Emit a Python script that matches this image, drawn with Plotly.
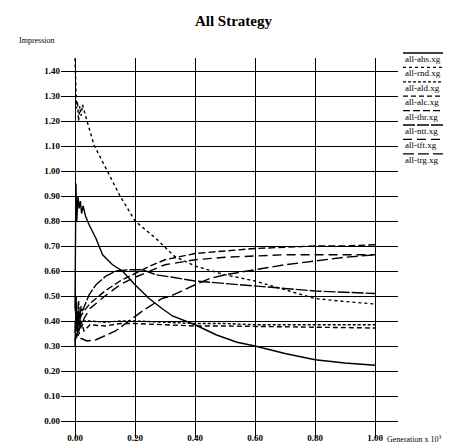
import plotly.graph_objects as go

# ---- data ----
ahs_x = [0, 0.003, 0.006, 0.01, 0.014, 0.018, 0.022, 0.027, 0.035, 0.047, 0.07, 0.092, 0.125, 0.158, 0.2, 0.247, 0.29, 0.325, 0.4, 0.47, 0.54, 0.6, 0.7, 0.8, 0.9, 1.0]
ahs_y = [0.45, 0.95, 0.80, 0.90, 0.85, 0.88, 0.83, 0.86, 0.82, 0.785, 0.73, 0.665, 0.625, 0.60, 0.545, 0.49, 0.45, 0.42, 0.385, 0.345, 0.315, 0.30, 0.27, 0.245, 0.232, 0.223]

rnd_x = [0, 0.002, 0.005, 0.008, 0.012, 0.016, 0.02, 0.025, 0.03, 0.04, 0.063, 0.09, 0.108, 0.135, 0.148, 0.2, 0.27, 0.33, 0.4, 0.5, 0.6, 0.7, 0.8, 0.9, 1.0]
rnd_y = [1.45, 1.35, 1.25, 1.28, 1.20, 1.26, 1.22, 1.265, 1.24, 1.20, 1.105, 1.04, 1.0, 0.93, 0.905, 0.80, 0.73, 0.66, 0.62, 0.585, 0.56, 0.525, 0.49, 0.478, 0.468]

ald_x = [0, 0.01, 0.02, 0.03, 0.05, 0.1, 0.15, 0.2, 0.3, 0.4, 0.5, 0.6, 0.7, 0.8, 0.9, 1.0]
ald_y = [0.32, 0.42, 0.37, 0.40, 0.40, 0.395, 0.40, 0.40, 0.395, 0.39, 0.39, 0.385, 0.385, 0.385, 0.385, 0.385]

alc_x = [0, 0.01, 0.02, 0.03, 0.05, 0.1, 0.15, 0.2, 0.3, 0.4, 0.5, 0.6, 0.7, 0.8, 0.9, 1.0]
alc_y = [0.38, 0.34, 0.40, 0.36, 0.385, 0.38, 0.39, 0.39, 0.385, 0.38, 0.38, 0.378, 0.376, 0.375, 0.373, 0.372]

thr_x = [0, 0.005, 0.01, 0.02, 0.03, 0.05, 0.1, 0.15, 0.2, 0.25, 0.3, 0.4, 0.5, 0.6, 0.7, 0.8, 0.9, 1.0]
thr_y = [0.35, 0.45, 0.38, 0.42, 0.44, 0.47, 0.52, 0.56, 0.59, 0.62, 0.645, 0.67, 0.68, 0.69, 0.695, 0.70, 0.70, 0.705]

ntt_x = [0, 0.004, 0.008, 0.012, 0.016, 0.02, 0.025, 0.035, 0.047, 0.07, 0.103, 0.137, 0.18, 0.225, 0.27, 0.325, 0.4, 0.5, 0.6, 0.7, 0.8, 0.9, 1.0]
ntt_y = [0.30, 0.50, 0.35, 0.48, 0.38, 0.46, 0.44, 0.47, 0.505, 0.545, 0.58, 0.60, 0.605, 0.605, 0.585, 0.575, 0.56, 0.55, 0.54, 0.53, 0.52, 0.515, 0.51]

tft_x = [0, 0.005, 0.01, 0.02, 0.03, 0.05, 0.1, 0.15, 0.2, 0.25, 0.3, 0.4, 0.5, 0.6, 0.7, 0.8, 0.9, 1.0]
tft_y = [0.40, 0.33, 0.42, 0.38, 0.41, 0.45, 0.50, 0.545, 0.575, 0.60, 0.625, 0.645, 0.655, 0.66, 0.665, 0.665, 0.665, 0.665]

trg_x = [0, 0.006, 0.012, 0.02, 0.04, 0.07, 0.10, 0.135, 0.18, 0.225, 0.29, 0.32, 0.4, 0.45, 0.5, 0.6, 0.7, 0.8, 0.9, 1.0]
trg_y = [0.45, 0.40, 0.36, 0.33, 0.32, 0.325, 0.34, 0.36, 0.40, 0.44, 0.49, 0.50, 0.545, 0.57, 0.585, 0.605, 0.625, 0.64, 0.655, 0.665]

series_names = ["all-ahs.xg", "all-rnd.xg", "all-ald.xg", "all-alc.xg",
                "all-thr.xg", "all-ntt.xg", "all-tft.xg", "all-trg.xg"]
series_x = [ahs_x, rnd_x, ald_x, alc_x, thr_x, ntt_x, tft_x, trg_x]
series_y = [ahs_y, rnd_y, ald_y, alc_y, thr_y, ntt_y, tft_y, trg_y]
dashes = ["solid", "dot", "3px,2px", "5px,3px", "7px,3px", "12px,2px", "9px,5px", "11px,4px"]

x_ticks = [0.0, 0.2, 0.4, 0.6, 0.8, 1.0]
y_ticks = [round(i * 0.1, 2) for i in range(15)]

# ---- layout geometry (pixels) ----
W, H = 451, 446
L, R, T, B = 53, 61, 50, 16
PW, PH = W - L - R, H - T - B

def px_x(p):
    return (p - L) / PW

def px_y(p):
    return (H - B - p) / PH

SERIF = "Liberation Serif, Times New Roman, serif"

fig = go.Figure()
for xs, ys, d, n in zip(series_x, series_y, dashes, series_names):
    fig.add_trace(go.Scatter(x=xs, y=ys, mode="lines", name=n,
                             line=dict(color="black", width=1.4, dash=d),
                             showlegend=False))

# custom legend: overline sample above each label
for i, (n, d) in enumerate(zip(series_names, dashes)):
    ty = 51 + 14.4 * i
    ly = ty - 6
    fig.add_shape(type="line", xref="paper", yref="paper",
                  x0=px_x(395), x1=px_x(451), y0=px_y(ly), y1=px_y(ly),
                  line=dict(color="black", width=1.3, dash=d))
    fig.add_annotation(text=n, xref="paper", yref="paper",
                       x=px_x(395), y=px_y(ty), xanchor="left", yanchor="middle",
                       showarrow=False, font=dict(family=SERIF, size=9, color="black"))

fig.add_annotation(text="Impression", xref="paper", yref="paper",
                   x=px_x(9), y=px_y(32), xanchor="left", yanchor="middle",
                   showarrow=False, font=dict(family=SERIF, size=8, color="black"))
fig.add_annotation(text="Generation x 10<sup>3</sup>", xref="paper", yref="paper",
                   x=px_x(377), y=px_y(431), xanchor="left", yanchor="middle",
                   showarrow=False, font=dict(family=SERIF, size=8, color="black"))

fig.update_layout(
    width=W, height=H,
    margin=dict(l=L, r=R, t=T, b=B),
    paper_bgcolor="white", plot_bgcolor="white",
    title=dict(text="<b>All Strategy</b>", x=0.5, xanchor="center",
               y=1 - 13 / H, yanchor="middle",
               font=dict(family=SERIF, size=15, color="black")),
    xaxis=dict(range=[-14 / 300, (PW - 14) / 300], tickvals=x_ticks,
               tickformat=".2f", showgrid=True, gridcolor="black", gridwidth=1,
               zeroline=False, showline=False, ticks="",
               ticklabelstandoff=-7,
               tickfont=dict(family=SERIF, size=9, color="black", weight="bold")),
    yaxis=dict(range=[-17 / 250, (PH - 17) / 250], tickvals=y_ticks,
               tickformat=".2f", showgrid=True, gridcolor="black", gridwidth=1,
               zeroline=False, showline=False, ticks="",
               tickfont=dict(family=SERIF, size=9, color="black", weight="bold")),
)

fig.write_html("out.html")
